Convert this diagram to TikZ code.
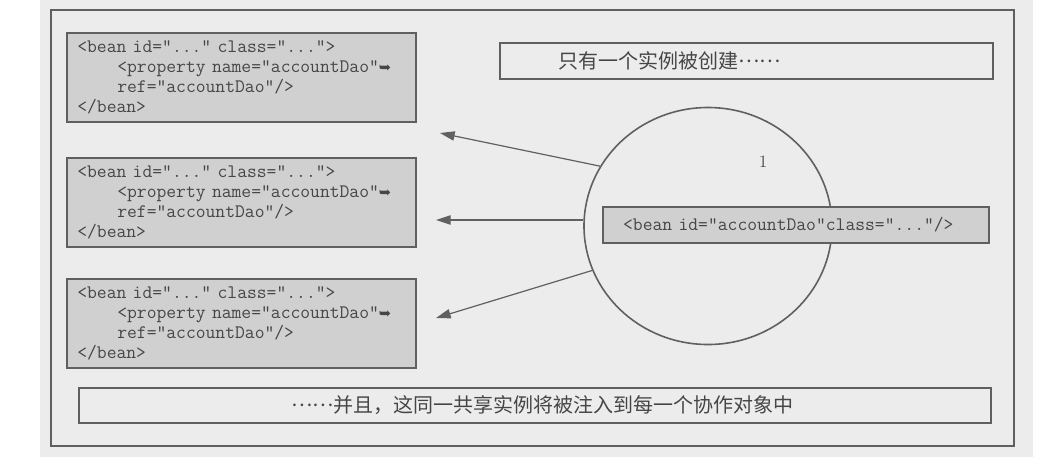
\documentclass[tikz,border=0pt]{standalone}
\usepackage{fontspec}
\usetikzlibrary{arrows.meta,shapes.geometric}
\newfontfamily\cjkfont{Noto Sans CJK SC}
\newfontfamily\arrowfont{DejaVu Sans}
\definecolor{paper}{HTML}{ECECEC}
\definecolor{boxgray}{HTML}{D0D0D0}
\definecolor{ink}{HTML}{464646}
\definecolor{rule}{HTML}{606060}
\newcommand{\contarrow}{{\arrowfont\fontsize{11}{11}\selectfont ➥}}
\newcommand{\midots}{\raisebox{0.3em}{……}}
\newcommand{\beantext}{<bean id="..." class="...">\\
  \hspace*{30pt}<property name="accountDao"\contarrow\\
  \hspace*{30pt}ref="accountDao"/>\\
  </bean>}
\tikzset{
  bean/.style={draw=rule, line width=1.2pt, fill=boxgray, anchor=north west,
    minimum width=261.75pt, minimum height=67pt, inner xsep=7.5pt,
    text width=246pt, align=left, text=ink,
    font=\ttfamily\fontsize{14.3}{14.8}\selectfont},
  note/.style={draw=rule, line width=1.2pt, fill=paper, anchor=north west,
    align=left, text=ink, font=\cjkfont\fontsize{15}{15}\selectfont},
  link/.style={draw=rule, line width=0.9pt, -{Triangle[length=11pt,width=7pt]}}
}
\begin{document}
\begin{tikzpicture}[x=0.75pt,y=-0.75pt]
\useasboundingbox (0,0) rectangle (1053,469);
\fill[paper] (40,0) rectangle (1033,457);
\draw[rule, line width=1.2pt] (51,10) rectangle (1014,446);

\node[note, minimum width=369.75pt, minimum height=27pt, inner xsep=43.5pt, text width=282pt] (once) at (499,42) {只有一个实例被创建\midots};
\node[note, minimum width=684pt, minimum height=26.25pt, inner xsep=159pt, text width=365pt] (shared) at (78,387) {\midots 并且，这同一共享实例将被注入到每一个协作对象中};

\node[bean] (b1) at (66,32) {\beantext};
\node[bean] (b2) at (66,157) {\beantext};
\node[bean] (b3) at (66,278) {\beantext};

\node[ellipse, draw=rule, line width=1.2pt, minimum width=186pt, minimum height=177.75pt] (circ) at (708,226) {};
\node[text=ink, font=\fontsize{13}{13}\selectfont] (one) at (763,162) {1};

\coordinate (t1) at (440,133);
\coordinate (t2) at (436,220);
\coordinate (t3) at (436,318);
\draw[link] (circ.151) -- (t1);
\draw[link] (circ.west |- t2) -- (t2);
\draw[link] (circ.201) -- (t3);

\node[bean, minimum width=289.5pt, minimum height=27pt, inner xsep=15pt, text width=259pt] (dao) at (602,206) {<bean id="accountDao"class="..."/>};
\end{tikzpicture}
\end{document}
